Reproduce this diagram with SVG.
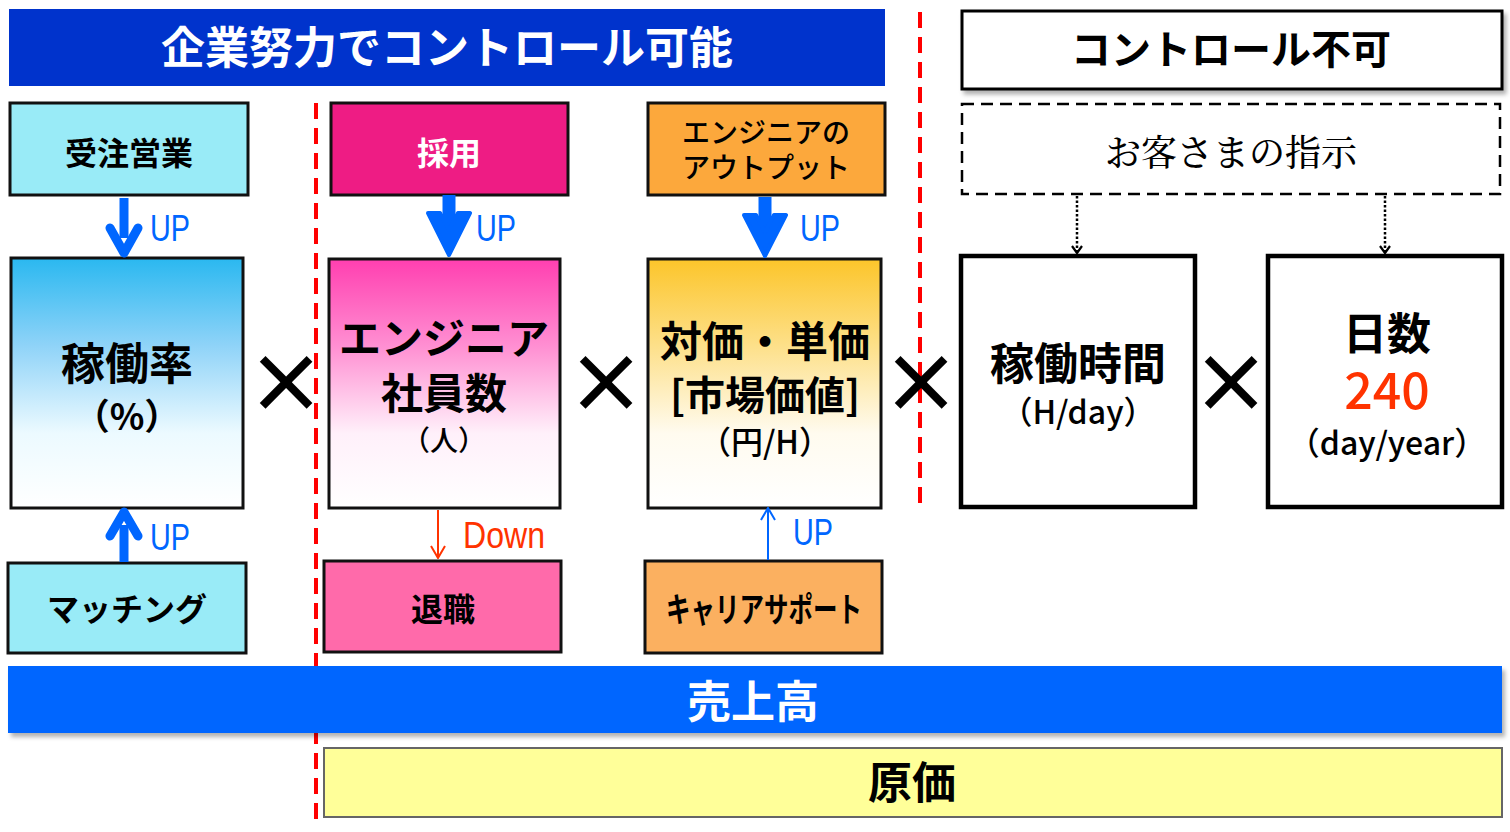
<svg xmlns="http://www.w3.org/2000/svg" width="1510" height="832" viewBox="0 0 1510 832">
<defs>
<linearGradient id="gCyan" x1="0" y1="0" x2="0" y2="1"><stop offset="0" stop-color="#2ab8f0"/><stop offset="0.35" stop-color="#8fd3f8"/><stop offset="0.7" stop-color="#ecfaff"/><stop offset="1" stop-color="#ffffff"/></linearGradient>
<linearGradient id="gMag" x1="0" y1="0" x2="0" y2="1"><stop offset="0" stop-color="#ff3fb0"/><stop offset="0.35" stop-color="#ff8fd2"/><stop offset="0.7" stop-color="#fff0fa"/><stop offset="1" stop-color="#ffffff"/></linearGradient>
<linearGradient id="gOra" x1="0" y1="0" x2="0" y2="1"><stop offset="0" stop-color="#fcc52a"/><stop offset="0.35" stop-color="#fde08a"/><stop offset="0.7" stop-color="#fffbef"/><stop offset="1" stop-color="#ffffff"/></linearGradient>
<filter id="sh" x="-5%" y="-20%" width="110%" height="150%"><feDropShadow dx="3" dy="4" stdDeviation="2" flood-color="#000" flood-opacity="0.3"/></filter>
<marker id="dotHead" markerWidth="10" markerHeight="12" refX="8" refY="6" orient="auto" markerUnits="userSpaceOnUse" viewBox="0 0 10 12"><path d="M1,1 L8,6 L1,11" fill="none" stroke="#000" stroke-width="2.2"/></marker>
<marker id="thinRed" markerWidth="14" markerHeight="16" refX="13" refY="8" orient="auto" markerUnits="userSpaceOnUse" viewBox="0 0 14 16"><path d="M1,1 L13,8 L1,15" fill="none" stroke="#ff3300" stroke-width="2"/></marker>
<marker id="thinBlue" markerWidth="14" markerHeight="16" refX="13" refY="8" orient="auto" markerUnits="userSpaceOnUse" viewBox="0 0 14 16"><path d="M1,1 L13,8 L1,15" fill="none" stroke="#0066ff" stroke-width="2"/></marker>
</defs>
<style>
text{font-family:"Noto Sans CJK JP","Liberation Sans",sans-serif;text-anchor:middle}
.b{font-weight:bold}
.box{stroke:#111;stroke-width:3}
.bigw{fill:#fff;stroke:#000;stroke-width:4.5}
.up{font-family:"Liberation Sans","Noto Sans CJK JP",sans-serif;fill:#0066ff;font-size:36px;text-anchor:start}
.x{font-size:80px;font-weight:bold}
.red{stroke:#ff0000;stroke-width:4;stroke-dasharray:16,9;fill:none}
</style>
<rect width="1510" height="832" fill="#fff"/>

<g id="hdr-left">
<rect x="9" y="9" width="876" height="77" fill="#0033cc"/>
<text x="447" y="64" class="b" font-size="44" fill="#fff">企業努力でコントロール可能</text>
</g>
<g id="hdr-right">
<rect x="962" y="11" width="540" height="78" fill="#fff" stroke="#000" stroke-width="3" filter="url(#sh)"/>
<text x="1231" y="64" class="b" font-size="40">コントロール不可</text>
</g>
<g id="customer">
<rect x="962" y="104" width="538" height="90" fill="#fff" stroke="#000" stroke-width="2.5" stroke-dasharray="12,7"/>
<text x="1231" y="166" font-size="36" font-weight="500" style="font-family:'Noto Serif CJK JP','Liberation Serif','Noto Sans CJK JP',serif">お客さまの指示</text>
</g>

<g id="dividers">
<line x1="316" y1="103" x2="316" y2="826" class="red"/>
<line x1="920" y1="12" x2="920" y2="505" class="red"/>
</g>

<g id="n-juchu">
<rect x="10" y="103" width="238" height="92" fill="#99ebf7" class="box"/>
<text x="129" y="165" class="b" font-size="32">受注営業</text>
</g>
<g id="n-saiyo">
<rect x="331" y="103" width="237" height="92" fill="#ee1c84" class="box"/>
<text x="449" y="165" class="b" font-size="32" fill="#fff">採用</text>
</g>
<g id="n-output">
<rect x="648" y="103" width="237" height="92" fill="#fca83c" class="box"/>
<text x="766" y="143" font-size="28" font-weight="500">エンジニアの</text>
<text x="766" y="178" font-size="28" font-weight="500">アウトプット</text>
</g>

<g id="n-kadoritsu">
<rect x="11" y="258" width="232" height="250" fill="url(#gCyan)" class="box"/>
<text x="127" y="380" class="b" font-size="44">稼働率</text>
<text x="127" y="430" class="b" font-size="36">（%）</text>
</g>
<g id="n-engineer">
<rect x="329" y="259" width="231" height="249" fill="url(#gMag)" class="box"/>
<text x="444" y="354" class="b" font-size="42">エンジニア</text>
<text x="444" y="409" class="b" font-size="42">社員数</text>
<text x="444" y="451" font-size="28" font-weight="500">（人）</text>
</g>
<g id="n-taika">
<rect x="648" y="259" width="233" height="249" fill="url(#gOra)" class="box"/>
<text x="765" y="357" class="b" font-size="42">対価・単価</text>
<text x="765" y="410" class="b" font-size="40">[市場価値]</text>
<text x="765" y="454" font-size="32" font-weight="500">（円/H）</text>
</g>
<g id="n-jikan">
<rect x="961" y="256" width="234" height="251" class="bigw"/>
<text x="1078" y="380" class="b" font-size="44">稼働時間</text>
<text x="1078" y="424" font-size="32" font-weight="500">（H/day）</text>
</g>
<g id="n-nissu">
<rect x="1268" y="256" width="234" height="251" class="bigw"/>
<text x="1387" y="350" class="b" font-size="44">日数</text>
<text x="1387" y="409" font-size="50" fill="#ff3300" font-weight="500">240</text>
<text x="1387" y="455" font-size="32" font-weight="500">（day/year）</text>
</g>

<g id="times">
<text x="286" y="412" class="x">×</text>
<text x="606" y="412" class="x">×</text>
<text x="921" y="412" class="x">×</text>
<text x="1231" y="412" class="x">×</text>
</g>

<g id="n-matching">
<rect x="8" y="563" width="238" height="90" fill="#99ebf7" class="box"/>
<text x="127" y="621" class="b" font-size="32">マッチング</text>
</g>
<g id="n-taishoku">
<rect x="324" y="561" width="237" height="91" fill="#ff6aaa" class="box"/>
<text x="443" y="621" class="b" font-size="32">退職</text>
</g>
<g id="n-career">
<rect x="645" y="561" width="237" height="92" fill="#fbb060" class="box"/>
<text x="764" y="622" class="b" font-size="34" textLength="196" lengthAdjust="spacingAndGlyphs">キャリアサポート</text>
</g>

<g id="n-uriage">
<rect x="8" y="666" width="1494" height="67" fill="#0066ff" filter="url(#sh)"/>
<text x="753" y="718" class="b" font-size="44" fill="#fff">売上高</text>
</g>
<g id="n-genka">
<rect x="324" y="748" width="1178" height="69" fill="#ffff99" stroke="#666" stroke-width="2"/>
<text x="912" y="799" class="b" font-size="44">原価</text>
</g>

<g id="connectors">
<path d="M124,198 V238" stroke="#0066ff" stroke-width="9" fill="none"/>
<path d="M110,228 L124,253 L138,228" stroke="#0066ff" stroke-width="9" fill="none" stroke-linejoin="round" stroke-linecap="round"/>
<text x="150" y="241" class="up" textLength="40" lengthAdjust="spacingAndGlyphs">UP</text>

<path d="M449,195 V235" stroke="#0066ff" stroke-width="13" fill="none"/>
<path d="M428,213 L449,255 L470,213 L458,213 L449,230 L440,213 Z" fill="#0066ff" stroke="#0066ff" stroke-width="4" stroke-linejoin="round"/>
<text x="476" y="241" class="up" textLength="40" lengthAdjust="spacingAndGlyphs">UP</text>

<path d="M765,197 V235" stroke="#0066ff" stroke-width="13" fill="none"/>
<path d="M744,215 L765,256 L786,215 L774,215 L765,232 L756,215 Z" fill="#0066ff" stroke="#0066ff" stroke-width="4" stroke-linejoin="round"/>
<text x="800" y="241" class="up" textLength="40" lengthAdjust="spacingAndGlyphs">UP</text>

<path d="M124,562 V525" stroke="#0066ff" stroke-width="9" fill="none"/>
<path d="M110,536 L124,512 L138,536" stroke="#0066ff" stroke-width="9" fill="none" stroke-linejoin="round" stroke-linecap="round"/>
<text x="150" y="550" class="up" textLength="40" lengthAdjust="spacingAndGlyphs">UP</text>

<line x1="438" y1="510" x2="438" y2="558" stroke="#ff3300" stroke-width="2" marker-end="url(#thinRed)"/>
<text x="463" y="548" class="up" style="fill:#ff3300" textLength="82" lengthAdjust="spacingAndGlyphs">Down</text>

<line x1="768" y1="560" x2="768" y2="508" stroke="#0066ff" stroke-width="2" marker-end="url(#thinBlue)"/>
<text x="793" y="545" class="up" textLength="40" lengthAdjust="spacingAndGlyphs">UP</text>

<line x1="1077" y1="196" x2="1077" y2="253" stroke="#000" stroke-width="2.5" stroke-dasharray="2.5,2" marker-end="url(#dotHead)"/>
<line x1="1385" y1="196" x2="1385" y2="253" stroke="#000" stroke-width="2.5" stroke-dasharray="2.5,2" marker-end="url(#dotHead)"/>
</g>
</svg>
